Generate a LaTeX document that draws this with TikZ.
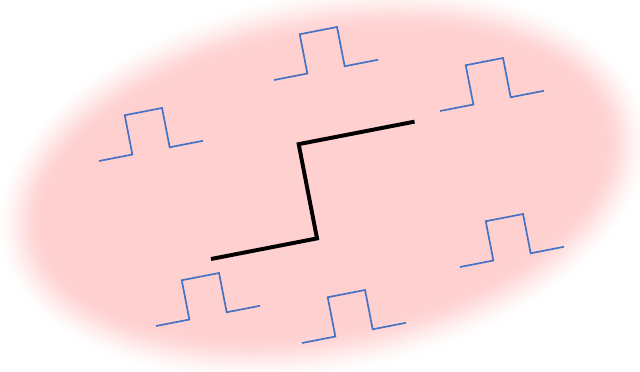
\documentclass[tikz,border=0pt]{standalone}
\usepackage{xcolor}
\usepackage{tikz}
\definecolor{ovalpink}{HTML}{FFD0D0}
\definecolor{pulseblue}{HTML}{4472C4}
\tikzset{
  pulse/.style={draw=pulseblue,line width=1.2pt,line join=miter},
  stepline/.style={draw=black,line width=2.8pt,line join=miter},
  tilt/.style={rotate=11}
}

\begin{document}
\begin{tikzpicture}[x=0.025cm,y=-0.025cm]
  \useasboundingbox (0,0) rectangle (640,371);

  % soft pink oval, outer rings first
  \foreach \k in {0,...,50} {
    \pgfmathsetmacro\t{\k/50}
    \pgfmathsetmacro\p{100*(3*\t*\t-2*\t*\t*\t)}
    \fill[ovalpink!\p!white,shift={(323,183)},tilt]
      (0,0) ellipse [x radius={332-\k}, y radius={194-\k}];
  }

  % small pulses
  \draw[pulse,shift={(99,161)},tilt] (0,0) -- ++(34,0) -- ++(0,-40) -- ++(38,0) -- ++(0,40) -- ++(34,0);
  \draw[pulse,shift={(274,80)},tilt] (0,0) -- ++(34,0) -- ++(0,-40) -- ++(38,0) -- ++(0,40) -- ++(34,0);
  \draw[pulse,shift={(440,111)},tilt] (0,0) -- ++(34,0) -- ++(0,-40) -- ++(38,0) -- ++(0,40) -- ++(34,0);
  \draw[pulse,shift={(460,267)},tilt] (0,0) -- ++(34,0) -- ++(0,-40) -- ++(38,0) -- ++(0,40) -- ++(34,0);
  \draw[pulse,shift={(302,343)},tilt] (0,0) -- ++(34,0) -- ++(0,-40) -- ++(38,0) -- ++(0,40) -- ++(34,0);
  \draw[pulse,shift={(156,326)},tilt] (0,0) -- ++(34,0) -- ++(0,-40) -- ++(38,0) -- ++(0,40) -- ++(34,0);

  % step in the middle
  \draw[stepline,shift={(211,259)},tilt] (0,0) -- ++(108,0) -- ++(0,-96) -- ++(118,0);
\end{tikzpicture}
\end{document}
